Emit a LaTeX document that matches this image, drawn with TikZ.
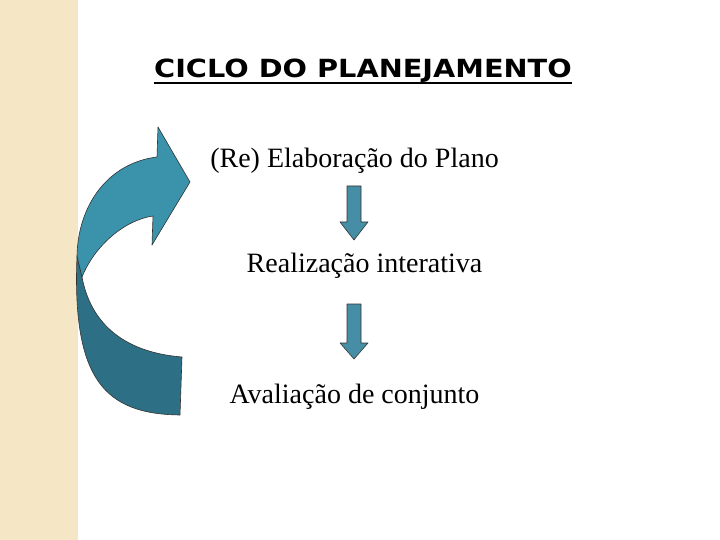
\documentclass[tikz,border=0pt]{standalone}
\usepackage{fontspec}
\setmainfont{Liberation Serif}
\newfontfamily\titlefont{DejaVu Sans}
\begin{document}
\begin{tikzpicture}[x=1pt,y=-1pt,
  txt/.style={anchor=base,inner sep=0pt,font=\fontsize{28}{30}\selectfont},
  arrowshape/.style={draw=black!80,line width=0.6pt,line join=round},
  downarrow/.style={arrowshape,fill=downfill}]
\definecolor{stripe}{RGB}{245,230,198}
\definecolor{upperfill}{RGB}{58,146,171}
\definecolor{lowerfill}{RGB}{45,112,133}
\definecolor{downfill}{RGB}{70,142,166}
\useasboundingbox (0,0) rectangle (720,540);
\fill[white] (0,0) rectangle (720,540);
\fill[stripe] (0,0) rectangle (78,540);
% title
\node[anchor=base,inner sep=0pt,xscale=1.15,font=\titlefont\bfseries\fontsize{25}{28}\selectfont] (title) at (363,78) {CICLO DO PLANEJAMENTO};
\draw[line width=1.8pt] ([yshift=-5pt]title.base west) -- ([yshift=-5pt]title.base east);
% texts
\node[txt] (t1) at (354.5,168) {(Re) Elaboração do Plano};
\node[txt] (t2) at (364.5,272) {Realização interativa};
\node[txt] (t3) at (354.5,403) {Avaliação de conjunto};
% down arrows
\draw[downarrow] (347,186) -- (361,186) -- (361,222) -- (368,222) -- (354,240) -- (340,222) -- (347,222) -- cycle;
\draw[downarrow] (347,304) -- (361,304) -- (361,343) -- (368,343) -- (354,359) -- (340,343) -- (347,343) -- cycle;
% curved arrow: lower band
\draw[arrowshape,fill=lowerfill] (77,256) .. controls (72,380) and (105,414) .. (180,415) -- (182,357) .. controls (120,352) and (90,320) .. (82,277) -- cycle;
% curved arrow: upper band with head
\draw[arrowshape,fill=upperfill] (82,277) .. controls (95,245) and (125,220) .. (153,216) -- (152,245) -- (190,182) -- (158,127) -- (157,157) .. controls (108,163) and (78,205) .. (77,256) -- cycle;
\end{tikzpicture}
\end{document}
